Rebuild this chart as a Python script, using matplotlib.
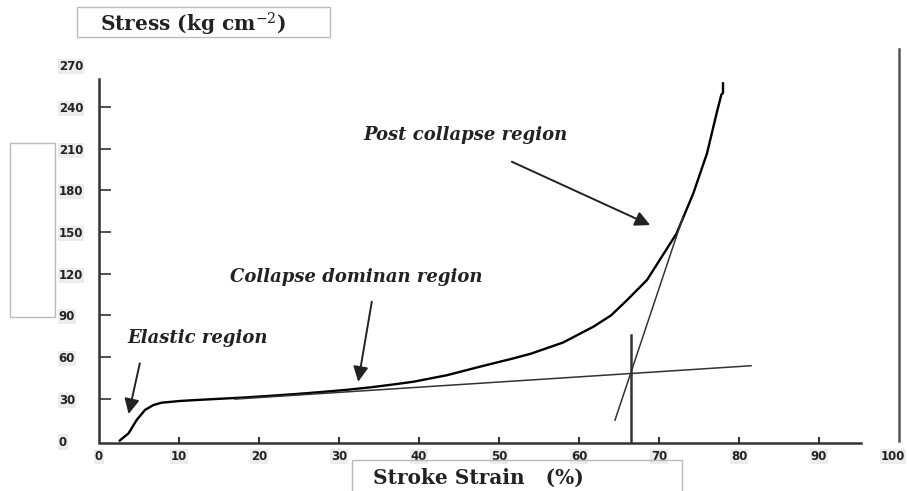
import matplotlib.pyplot as plt
from matplotlib.patches import Rectangle
from matplotlib.transforms import ScaledTranslation

# stress-strain curve
strain = [2.6, 3.7, 4.7, 5.75, 6.8, 7.8, 10, 12, 15, 18.3, 21, 24.5, 28, 31, 34, 37,
          39.3, 43.5, 47.6, 51.8, 54, 56, 58, 60.1, 61.8, 64, 66, 68.5, 70.1, 72.2,
          74.3, 76, 77.2, 77.8, 78.0, 78.0]
stress = [0, 5.2, 14.7, 22, 25.5, 27.2, 28.4, 29.1, 30, 31, 32, 33.4, 35, 36.5, 38.3, 40.5,
          42.3, 47, 53.1, 59.1, 62.5, 66.5, 70.5, 76.8, 81.9, 90, 101, 115.5, 130, 149,
          178, 206.6, 235.4, 249, 250, 257]

# construction lines
plateau_x = [17, 81.5]
plateau_y = [29.8, 53.8]
steep_x = [64.5, 73.0]
steep_y = [14.7, 161]
onset_x = [66.5, 66.5]
onset_y = [-1, 76]

xticks = [0, 10, 20, 30, 40, 50, 60, 70, 80, 90, 100]
yticks = [0, 30, 60, 90, 120, 150, 180, 210, 240, 270]

# (label, text position, arrow tail, arrow head)
notes = [
    ("Elastic region", (3.6, 73.7), (5.1, 55.5), (3.7, 19.1)),
    ("Collapse dominan region", (16.4, 117.8), (34.1, 99.9), (32.4, 42.3)),
    ("Post collapse region", (33.0, 219.8), (51.6, 200.6), (68.9, 155)),
]

plt.rcParams['mathtext.fontset'] = 'dejavuserif'

W, H = 909, 491
fig = plt.figure(figsize=(W / 100, H / 100), dpi=100)
ax = fig.add_axes([99 / W, 47.7 / H, 808 / W, 398.9 / H])
ax.set_xlim(0, 101)
ax.set_ylim(-2, 285)

ax.plot(strain, stress, color='black', lw=1.7, solid_joinstyle='round')
ax.plot(plateau_x, plateau_y, color='#333333', lw=1.1)
ax.plot(steep_x, steep_y, color='#333333', lw=1.1)
ax.plot(onset_x, onset_y, color='#333333', lw=1.8)

for label, txt, tail, head in notes:
    ax.text(txt[0], txt[1], label, family='DejaVu Serif', style='italic', weight='bold',
            fontsize=13, color='#222222', va='center', ha='left')
    ax.annotate('', xy=head, xytext=tail,
                arrowprops=dict(arrowstyle='-|>,head_length=0.9,head_width=0.45',
                                color='#222222', lw=1.4, shrinkA=0, shrinkB=0))

# axes look
ax.spines['top'].set_visible(False)
for s in ['left', 'bottom', 'right']:
    ax.spines[s].set_color('#333333')
    ax.spines[s].set_linewidth(1.8)
ax.spines['left'].set_bounds(0, 260)
ax.spines['bottom'].set_bounds(0, 95.2)
ax.spines['right'].set_position(('data', 100))
ax.spines['right'].set_bounds(0, 281.4)
ax.spines['right'].set_color('#555555')

ax.set_xticks(xticks)
ax.set_yticks(yticks)
ax.tick_params(axis='x', direction='in', length=4.5, width=1.5, pad=5, colors='#333333')
ax.tick_params(axis='y', direction='in', length=8.5, width=1.2, pad=29, colors='#333333')
for t in [ax.xaxis.get_major_ticks()[0], ax.xaxis.get_major_ticks()[-1],
          ax.yaxis.get_major_ticks()[0], ax.yaxis.get_major_ticks()[-1]]:
    t.tick1line.set_visible(False)
for lab in ax.get_xticklabels() + ax.get_yticklabels():
    lab.set_fontsize(8.5)
    lab.set_fontweight('bold')
    lab.set_color('#222222')
    lab.set_bbox(dict(facecolor='#ececec', edgecolor='none', pad=0.8))
for lab in ax.get_yticklabels():
    lab.set_horizontalalignment('left')
# keep the last x label inside the figure
last = ax.get_xticklabels()[-1]
last.set_transform(last.get_transform() + ScaledTranslation(-6 / 100, 0, fig.dpi_scale_trans))

# label boxes around the axis titles
box_kw = dict(transform=fig.transFigure, fill=False, edgecolor='#bbbbbb', lw=1)
fig.patches.append(Rectangle((77 / W, 1 - 37 / H), 253 / W, 30 / H, **box_kw))
fig.patches.append(Rectangle((10 / W, 1 - 317 / H), 45 / W, 174 / H, **box_kw))
fig.patches.append(Rectangle((352 / W, 1 - 495 / H), 330 / W, 35 / H, **box_kw))

fig.text(100 / W, 1 - 24 / H, 'Stress (kg cm$^{-2}$)', family='DejaVu Serif',
         fontsize=14.5, weight='bold', color='#222222', va='center', ha='left')
fig.text(373 / W, 1 - 478 / H, 'Stroke Strain   (%)', family='DejaVu Serif',
         fontsize=14.5, weight='bold', color='#222222', va='center', ha='left')

fig.savefig('out.png', dpi=100)
